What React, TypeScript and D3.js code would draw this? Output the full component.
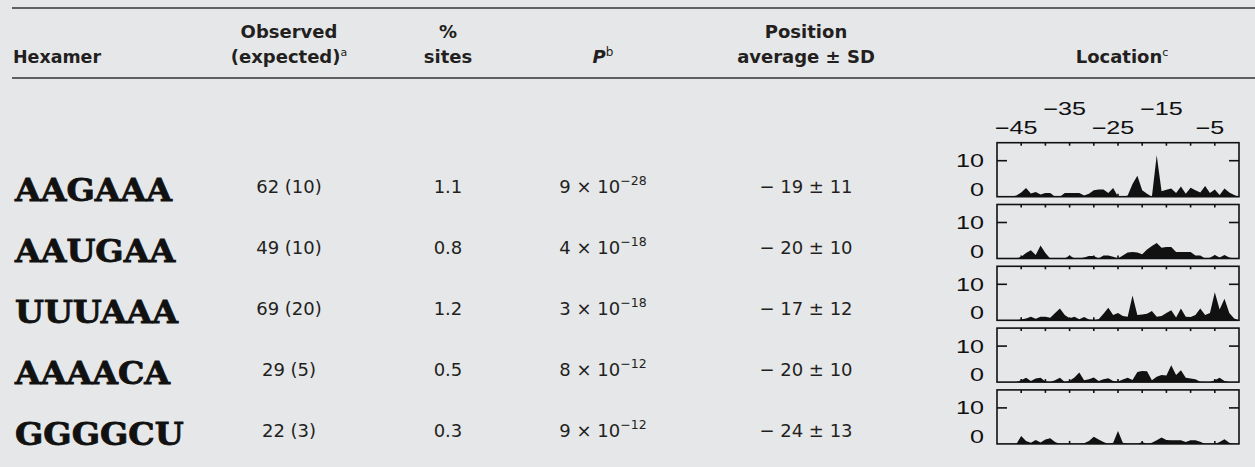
import React from 'react';
import * as d3 from 'd3';

// Table rows
const hexamers = ['AAGAAA', 'AAUGAA', 'UUUAAA', 'AAAACA', 'GGGGCU'];
const observed = [62, 49, 69, 29, 22];
const expected = [10, 10, 20, 5, 3];
const percentSites = ['1.1', '0.8', '1.2', '0.5', '0.3'];
const pMantissa = [9, 4, 3, 8, 9];
const pExponent = [28, 18, 18, 12, 12];
const positionMean = [19, 20, 17, 20, 24];
const positionSD = [11, 10, 12, 10, 13];

// Site counts per position (-50 .. 0) for each hexamer
const positions = d3.range(-50, 1);
const countsAAGAAA = [
  0, 0, 0, 0, 0.3, 1.2, 2.4, 0.9, 1.3, 0.6, 1, 1, 0, 0, 1, 1, 1, 1, 0.3, 0.8,
  1.8, 2, 2, 1, 2.4, 0, 0, 0.3, 3.5, 5.8, 1.8, 0.8, 0, 11.5, 1.5, 1.9, 2.3, 1, 2.8, 0.8,
  2.5, 1.8, 1.2, 3, 1, 2, 0.5, 2.3, 1.2, 0.5, 0,
];
const countsAAUGAA = [
  0, 0, 0, 0, 0, 0.5, 1.5, 2.3, 1, 3.6, 1.5, 0, 0, 0, 0, 0.8, 0, 0, 0.3, 0.7,
  0.7, 0, 0.8, 0.8, 0.5, 0, 0.8, 1.7, 1.8, 1.7, 1.2, 2.5, 3.5, 4.3, 3, 3.2, 3.2, 1.8, 1.8, 1.8,
  1.8, 0.8, 0.8, 0, 0.2, 1, 0.3, 1, 0.3, 0, 0,
];
const countsUUUAAA = [
  0, 0, 0, 0, 0, 0.2, 0.5, 1, 0.4, 1, 1, 0.7, 2, 3.3, 1.5, 0.6, 1, 0.3, 0.9, 0.2,
  0, 0.3, 1.8, 3.5, 1.5, 2, 1.2, 1, 6.9, 1.5, 1.6, 1.8, 2.6, 1, 1.2, 2, 2.8, 0.8, 3.3, 1,
  0.9, 1.5, 3.3, 1.5, 2, 7.8, 3, 6, 2, 0.5, 0,
];
const countsAAAACA = [
  0, 0, 0, 0, 0, 0.5, 1.2, 0.3, 1, 1.2, 0.2, 0, 0.5, 1.2, 0, 0.4, 1.3, 2.7, 0.5, 0.8,
  1.3, 0.3, 0.8, 1.1, 0.3, 0.2, 0.7, 1.2, 0.6, 2.8, 3.1, 3, 0.5, 1.5, 2, 1.8, 4.7, 2, 3.3, 1.2,
  1, 0.8, 0.1, 0, 0, 0.5, 1.2, 0.3, 0, 0, 0,
];
const countsGGGGCU = [
  0, 0, 0, 0, 0, 2.2, 0.8, 0.3, 1.1, 0.4, 1.2, 1.6, 0.5, 0, 0, 0, 0, 0, 0.2, 0.8,
  2, 1.2, 0.5, 0, 0.3, 3.6, 0.3, 0, 0, 0, 0.5, 0, 0.3, 1, 1.8, 1.1, 1, 1, 1, 0.5,
  1, 1, 0.6, 0, 0, 0, 0.5, 1.3, 0.3, 0, 0,
];
const siteCounts = [countsAAGAAA, countsAAUGAA, countsUUUAAA, countsAAAACA, countsGGGGCU];

const locationTicks = [-45, -40, -35, -30, -25, -20, -15, -10, -5];
const locationLabels = [-45, -35, -25, -15, -5];
const countTicks = [0, 10];

const W = 1255;
const H = 467;
const BG = '#e6e7e9';
const INK = '#231f20';
const SANS = '"DejaVu Sans", sans-serif';
const SERIF = '"DejaVu Serif", serif';
const AXIS = '"Liberation Sans", Arial, sans-serif';
const MINUS = '\u2212';

const rowTop = (i: number) => 142.7 + 61.8 * i;
const textBase = (i: number) => 193 + 61 * i;
const PANEL_H = 54;

const col = { hex: 15, obs: 289, pct: 448, p: 603, pos: 806, loc: 1122 };

function Stretch({ x, y, sx, anchor, size, children }: any) {
  return (
    <text
      transform={`translate(${x},${y}) scale(${sx},1)`}
      textAnchor={anchor}
      fontFamily={AXIS}
      fontSize={size}
      fill="#111"
    >
      {children}
    </text>
  );
}

export default function App() {
  const x = d3.scaleLinear().domain([-50, 0]).range([997, 1239]);

  return (
    <svg
      width={W}
      height={H}
      style={{ position: 'absolute', left: 0, top: 0, display: 'block' }}
    >
      <rect width={W} height={H} fill={BG} />

      {/* rules */}
      <line x1={12} x2={W} y1={8} y2={8} stroke="#333" strokeWidth={1.5} />
      <line x1={12} x2={W} y1={78} y2={78} stroke="#333" strokeWidth={1.5} />

      {/* header */}
      <g fontFamily={SANS} fontWeight="bold" fontSize={18} fill={INK}>
        <text x={13} y={63} textLength={88} lengthAdjust="spacingAndGlyphs">Hexamer</text>
        <text x={col.obs} y={38} textAnchor="middle">Observed</text>
        <text x={col.obs} y={63} textAnchor="middle">
          (expected)<tspan dy={-7} fontSize={11} fontWeight="normal">a</tspan>
        </text>
        <text x={col.pct} y={38} textAnchor="middle">%</text>
        <text x={col.pct} y={63} textAnchor="middle">sites</text>
        <text x={col.p} y={63} textAnchor="middle">
          <tspan fontStyle="italic">P</tspan>
          <tspan dy={-7} fontSize={12} fontWeight="normal">b</tspan>
        </text>
        <text x={col.pos} y={38} textAnchor="middle">Position</text>
        <text x={col.pos} y={63} textAnchor="middle">average ± SD</text>
        <text x={col.loc} y={63} textAnchor="middle">
          Location<tspan dy={-7} fontSize={11} fontWeight="normal">c</tspan>
        </text>
      </g>

      {/* location axis labels */}
      {locationLabels.map((t, k) => (
        <Stretch key={t} x={x(t) - 5} y={k % 2 === 0 ? 134 : 115} sx={1.4} anchor="middle" size={18}>
          {MINUS + Math.abs(t)}
        </Stretch>
      ))}

      {hexamers.map((hx, i) => {
        const top = rowTop(i);
        const y = d3.scaleLinear().domain([0, 15]).range([top + PANEL_H, top]);
        const area = d3
          .area<number>()
          .x((_, j) => x(positions[j]))
          .y0(y(0))
          .y1((d) => y(d));
        const bl = textBase(i);
        return (
          <g key={hx}>
            <text
              transform={`translate(${col.hex},${bl + 7.5}) scale(1.07,1)`}
              fontFamily={SERIF}
              fontWeight="bold"
              fontSize={31}
              fill="#111"
              stroke="#111"
              strokeWidth={0.8}
            >
              {hx}
            </text>
            <g fontFamily={SANS} fontSize={18} fill={INK} textAnchor="middle">
              <text x={col.obs} y={bl}>{`${observed[i]} (${expected[i]})`}</text>
              <text x={col.pct} y={bl}>{percentSites[i]}</text>
              <text x={col.p} y={bl}>
                {`${pMantissa[i]} × 10`}
                <tspan dy={-8} fontSize={12.5}>{MINUS + pExponent[i]}</tspan>
              </text>
              <text x={col.pos} y={bl}>{`${MINUS} ${positionMean[i]} ± ${positionSD[i]}`}</text>
            </g>

            {/* location panel */}
            <path d={area(siteCounts[i]) || ''} fill="#111" />
            <rect
              x={x(-50)}
              y={top}
              width={x(0) - x(-50)}
              height={PANEL_H}
              fill="none"
              stroke="#111"
              strokeWidth={1.6}
            />
            {locationTicks.map((t) => (
              <g key={t}>
                <line x1={x(t)} x2={x(t)} y1={top} y2={top + 3} stroke="#111" strokeWidth={1.6} />
                <line x1={x(t)} x2={x(t)} y1={top + PANEL_H} y2={top + PANEL_H - 3} stroke="#111" strokeWidth={1.6} />
              </g>
            ))}
            <line x1={x(-50)} x2={x(-50) + 10} y1={y(10)} y2={y(10)} stroke="#111" strokeWidth={1.6} />
            <line x1={x(0)} x2={x(0) - 10} y1={y(10)} y2={y(10)} stroke="#111" strokeWidth={1.6} />
            {countTicks.map((c) => (
              <Stretch
                key={c}
                x={984}
                y={c === 0 ? y(0) - 1 : y(c) + 6.5}
                sx={1.4}
                anchor="end"
                size={18}
              >
                {String(c)}
              </Stretch>
            ))}
          </g>
        );
      })}
    </svg>
  );
}
